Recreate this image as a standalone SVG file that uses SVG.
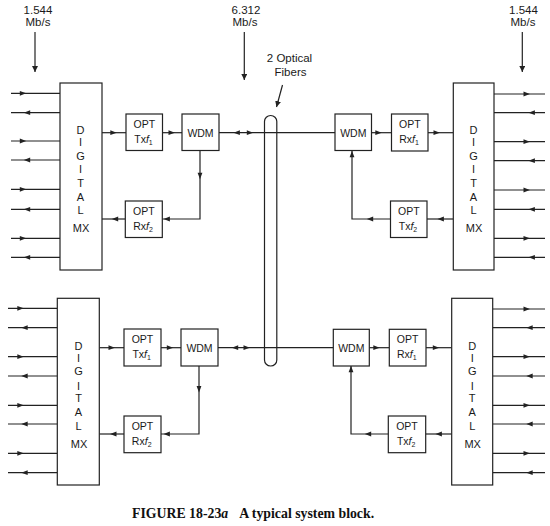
<svg xmlns="http://www.w3.org/2000/svg" xmlns:xlink="http://www.w3.org/1999/xlink" width="550" height="526" viewBox="0 0 550 526">
<style>
.box{fill:#fff;stroke:#222;stroke-width:1.2}
.ln{fill:none;stroke:#222;stroke-width:1.2}
.t{font-family:"Liberation Sans",Arial,sans-serif;fill:#1a1a1a;text-anchor:middle}
.lb{font-size:11.5px}
.bx{font-size:10.5px}
.mx{font-size:11px}
.cap{font-family:"Liberation Serif","Times New Roman",serif;font-weight:bold;font-size:13.8px;fill:#111}
</style>
<defs>
<path id="ar" d="M-3.2,-2.4 L3.2,0 L-3.2,2.4 Z" fill="#222"/>
<marker id="mk" markerWidth="8" markerHeight="8" refX="6" refY="3" orient="auto" markerUnits="userSpaceOnUse"><path d="M0,0 L6,3 L0,6 Z" fill="#222"/></marker>
</defs>
<rect width="550" height="526" fill="#fff"/>

<g id="labels">
<text class="t lb" x="38" y="14">1.544</text>
<text class="t lb" x="38" y="26">Mb/s</text>
<text class="t lb" x="246" y="14">6.312</text>
<text class="t lb" x="245" y="26">Mb/s</text>
<text class="t lb" x="523.5" y="14">1.544</text>
<text class="t lb" x="523" y="26">Mb/s</text>
<text class="t lb" x="289.5" y="62">2 Optical</text>
<text class="t lb" x="290.5" y="75.5">Fibers</text>
</g>

<g id="connectors">
<!-- rate arrows -->
<line class="ln" x1="35" y1="32" x2="35" y2="72" marker-end="url(#mk)"/>
<line class="ln" x1="244.3" y1="32" x2="244.3" y2="80" marker-end="url(#mk)" stroke-width="1"/>
<line class="ln" x1="522.3" y1="32" x2="522.3" y2="72" marker-end="url(#mk)"/>
<line class="ln" x1="282.5" y1="85" x2="276.5" y2="107" marker-end="url(#mk)" stroke-width="1"/>

<!-- fiber links -->
<line class="ln" x1="219" y1="132.7" x2="335" y2="132.7"/>
<line class="ln" x1="218" y1="347.7" x2="333.3" y2="347.7"/>
<use xlink:href="#ar" transform="translate(236.7,132.7) rotate(180)"/>
<use xlink:href="#ar" transform="translate(250,132.7)"/>
<use xlink:href="#ar" transform="translate(235,347.7) rotate(180)"/>
<use xlink:href="#ar" transform="translate(246.7,347.7)"/>

<!-- top-left internal -->
<line class="ln" x1="102" y1="132.7" x2="126" y2="132.7"/>
<use xlink:href="#ar" transform="translate(113.5,132.7)"/>
<line class="ln" x1="162.5" y1="132.7" x2="182" y2="132.7"/>
<use xlink:href="#ar" transform="translate(171.7,132.7)"/>
<polyline class="ln" points="200,150.5 200,219 162.3,219"/>
<use xlink:href="#ar" transform="translate(200,176) rotate(90)"/>
<use xlink:href="#ar" transform="translate(166.7,219) rotate(180)"/>
<line class="ln" x1="125.3" y1="219" x2="102" y2="219"/>
<use xlink:href="#ar" transform="translate(115,219) rotate(180)"/>

<!-- top-right internal -->
<line class="ln" x1="371.5" y1="132.7" x2="391.5" y2="132.7"/>
<use xlink:href="#ar" transform="translate(378.5,132.7)"/>
<line class="ln" x1="428" y1="132.7" x2="453.3" y2="132.7"/>
<use xlink:href="#ar" transform="translate(436.7,132.7)"/>
<line class="ln" x1="453.3" y1="219" x2="427" y2="219"/>
<use xlink:href="#ar" transform="translate(440.7,219) rotate(180)"/>
<polyline class="ln" points="390.5,219 352,219 352,151"/>
<use xlink:href="#ar" transform="translate(370,219) rotate(180)"/>
<use xlink:href="#ar" transform="translate(352,154) rotate(-90)"/>

<!-- bottom-left internal -->
<line class="ln" x1="99.3" y1="347.7" x2="124" y2="347.7"/>
<use xlink:href="#ar" transform="translate(111.7,347.7)"/>
<line class="ln" x1="161" y1="347.7" x2="181" y2="347.7"/>
<use xlink:href="#ar" transform="translate(170,347.7)"/>
<polyline class="ln" points="199,366 199,434 160.7,434"/>
<use xlink:href="#ar" transform="translate(199,389.3) rotate(90)"/>
<use xlink:href="#ar" transform="translate(166.7,434) rotate(180)"/>
<line class="ln" x1="124" y1="434" x2="99.3" y2="434"/>
<use xlink:href="#ar" transform="translate(113.3,434) rotate(180)"/>

<!-- bottom-right internal -->
<line class="ln" x1="369.3" y1="347.7" x2="389.3" y2="347.7"/>
<use xlink:href="#ar" transform="translate(376.5,347.7)"/>
<line class="ln" x1="426" y1="347.7" x2="451.7" y2="347.7"/>
<use xlink:href="#ar" transform="translate(436,347.7)"/>
<line class="ln" x1="451.7" y1="434" x2="425.7" y2="434"/>
<use xlink:href="#ar" transform="translate(438.7,434) rotate(180)"/>
<polyline class="ln" points="388.3,434 351,434 351,366"/>
<use xlink:href="#ar" transform="translate(368,434) rotate(180)"/>
<use xlink:href="#ar" transform="translate(351,369) rotate(-90)"/>

<!-- top-left tributaries -->
<g>
<line class="ln" x1="11" y1="93.3" x2="60" y2="93.3"/><use xlink:href="#ar" transform="translate(23,93.3)"/>
<line class="ln" x1="11" y1="112.7" x2="60" y2="112.7"/><use xlink:href="#ar" transform="translate(27,112.7) rotate(180)"/>
<line class="ln" x1="11" y1="141" x2="60" y2="141"/><use xlink:href="#ar" transform="translate(23,141)"/>
<line class="ln" x1="11" y1="160" x2="60" y2="160"/><use xlink:href="#ar" transform="translate(27,160) rotate(180)"/>
<line class="ln" x1="11" y1="189.3" x2="60" y2="189.3"/><use xlink:href="#ar" transform="translate(23,189.3)"/>
<line class="ln" x1="11" y1="209.3" x2="60" y2="209.3"/><use xlink:href="#ar" transform="translate(27,209.3) rotate(180)"/>
<line class="ln" x1="11" y1="238.3" x2="60" y2="238.3"/><use xlink:href="#ar" transform="translate(23,238.3)"/>
<line class="ln" x1="11" y1="257.3" x2="60" y2="257.3"/><use xlink:href="#ar" transform="translate(27,257.3) rotate(180)"/>
</g>
<!-- top-right tributaries -->
<g>
<line class="ln" x1="494" y1="94" x2="545" y2="94"/><use xlink:href="#ar" transform="translate(526.7,94)"/>
<line class="ln" x1="494" y1="112.7" x2="545" y2="112.7"/><use xlink:href="#ar" transform="translate(531.7,112.7) rotate(180)"/>
<line class="ln" x1="494" y1="141.7" x2="545" y2="141.7"/><use xlink:href="#ar" transform="translate(526.7,141.7)"/>
<line class="ln" x1="494" y1="160.7" x2="545" y2="160.7"/><use xlink:href="#ar" transform="translate(531.7,160.7) rotate(180)"/>
<line class="ln" x1="494" y1="190" x2="545" y2="190"/><use xlink:href="#ar" transform="translate(526.7,190)"/>
<line class="ln" x1="494" y1="209.3" x2="545" y2="209.3"/><use xlink:href="#ar" transform="translate(531.7,209.3) rotate(180)"/>
<line class="ln" x1="494" y1="238.3" x2="545" y2="238.3"/><use xlink:href="#ar" transform="translate(526.7,238.3)"/>
<line class="ln" x1="494" y1="257.3" x2="545" y2="257.3"/><use xlink:href="#ar" transform="translate(531.7,257.3) rotate(180)"/>
</g>
<!-- bottom-left tributaries -->
<g>
<line class="ln" x1="8" y1="308.3" x2="57.3" y2="308.3"/><use xlink:href="#ar" transform="translate(20.5,308.3)"/>
<line class="ln" x1="8" y1="327.7" x2="57.3" y2="327.7"/><use xlink:href="#ar" transform="translate(24.5,327.7) rotate(180)"/>
<line class="ln" x1="8" y1="356.7" x2="57.3" y2="356.7"/><use xlink:href="#ar" transform="translate(20.5,356.7)"/>
<line class="ln" x1="8" y1="376" x2="57.3" y2="376"/><use xlink:href="#ar" transform="translate(24.5,376) rotate(180)"/>
<line class="ln" x1="8" y1="405.3" x2="57.3" y2="405.3"/><use xlink:href="#ar" transform="translate(20.5,405.3)"/>
<line class="ln" x1="8" y1="424" x2="57.3" y2="424"/><use xlink:href="#ar" transform="translate(24.5,424) rotate(180)"/>
<line class="ln" x1="8" y1="453.3" x2="57.3" y2="453.3"/><use xlink:href="#ar" transform="translate(20.5,453.3)"/>
<line class="ln" x1="8" y1="472.7" x2="57.3" y2="472.7"/><use xlink:href="#ar" transform="translate(24.5,472.7) rotate(180)"/>
</g>
<!-- bottom-right tributaries -->
<g>
<line class="ln" x1="492.7" y1="309" x2="545" y2="309"/><use xlink:href="#ar" transform="translate(526.7,309)"/>
<line class="ln" x1="492.7" y1="327.7" x2="545" y2="327.7"/><use xlink:href="#ar" transform="translate(529.5,327.7) rotate(180)"/>
<line class="ln" x1="492.7" y1="356.7" x2="545" y2="356.7"/><use xlink:href="#ar" transform="translate(526.7,356.7)"/>
<line class="ln" x1="492.7" y1="376" x2="545" y2="376"/><use xlink:href="#ar" transform="translate(529.5,376) rotate(180)"/>
<line class="ln" x1="492.7" y1="405.3" x2="545" y2="405.3"/><use xlink:href="#ar" transform="translate(526.7,405.3)"/>
<line class="ln" x1="492.7" y1="424" x2="545" y2="424"/><use xlink:href="#ar" transform="translate(529.5,424) rotate(180)"/>
<line class="ln" x1="492.7" y1="453.3" x2="545" y2="453.3"/><use xlink:href="#ar" transform="translate(526.7,453.3)"/>
<line class="ln" x1="492.7" y1="472.7" x2="545" y2="472.7"/><use xlink:href="#ar" transform="translate(529.5,472.7) rotate(180)"/>
</g>
</g>

<g id="fibers">
<rect x="264.5" y="115.5" width="12.3" height="250.5" rx="6.1" ry="6.1" fill="none" stroke="#222" stroke-width="1.2"/>
</g>

<!-- top-left -->
<g id="mux-tl">
<rect class="box" x="60" y="83" width="42" height="187"/>
<text class="t mx" x="80.5" y="134">D</text><text class="t mx" x="80.5" y="145.5">I</text><text class="t mx" x="80.5" y="160">G</text><text class="t mx" x="80.5" y="173">I</text><text class="t mx" x="80.5" y="186.5">T</text><text class="t mx" x="80.5" y="200.5">A</text><text class="t mx" x="80.5" y="214">L</text><text class="t mx" x="81" y="232">MX</text>
</g>
<g id="tx-tl">
<rect class="box" x="126" y="114" width="36.5" height="36.5"/>
<text class="t bx" x="144.3" y="128">OPT</text>
<text class="t bx" x="143.5" y="142.5">Tx<tspan font-style="italic">f</tspan><tspan font-size="7" dy="2">1</tspan></text>
</g>
<g id="wdm-tl">
<rect class="box" x="182" y="114" width="37" height="36.5"/>
<text class="t bx" x="200.5" y="136.5">WDM</text>
</g>
<g id="rx-tl">
<rect class="box" x="125.3" y="201" width="37" height="36.5"/>
<text class="t bx" x="143.8" y="215">OPT</text>
<text class="t bx" x="143" y="229.5">Rx<tspan font-style="italic">f</tspan><tspan font-size="7" dy="2">2</tspan></text>
</g>

<!-- top-right -->
<g id="wdm-tr">
<rect class="box" x="335" y="114" width="36.5" height="36.5"/>
<text class="t bx" x="353.3" y="136.5">WDM</text>
</g>
<g id="rx-tr">
<rect class="box" x="391.5" y="114" width="36.5" height="37"/>
<text class="t bx" x="409.8" y="128">OPT</text>
<text class="t bx" x="409" y="142.5">Rx<tspan font-style="italic">f</tspan><tspan font-size="7" dy="2">1</tspan></text>
</g>
<g id="tx-tr">
<rect class="box" x="390.5" y="201" width="36.5" height="36.5"/>
<text class="t bx" x="408.8" y="215">OPT</text>
<text class="t bx" x="408" y="229.5">Tx<tspan font-style="italic">f</tspan><tspan font-size="7" dy="2">2</tspan></text>
</g>
<g id="mux-tr">
<rect class="box" x="453.3" y="83" width="40.7" height="187"/>
<text class="t mx" x="473.5" y="134">D</text><text class="t mx" x="473.5" y="145.5">I</text><text class="t mx" x="473.5" y="160">G</text><text class="t mx" x="473.5" y="173">I</text><text class="t mx" x="473.5" y="186.5">T</text><text class="t mx" x="473.5" y="200.5">A</text><text class="t mx" x="473.5" y="214">L</text><text class="t mx" x="474" y="232">MX</text>
</g>

<!-- bottom-left -->
<g id="mux-bl">
<rect class="box" x="57.3" y="298.3" width="42" height="186.7"/>
<text class="t mx" x="78.5" y="349.5">D</text><text class="t mx" x="78.5" y="361.5">I</text><text class="t mx" x="78.5" y="374.5">G</text><text class="t mx" x="78.5" y="389.5">I</text><text class="t mx" x="78.5" y="402">T</text><text class="t mx" x="78.5" y="415.5">A</text><text class="t mx" x="78.5" y="429.5">L</text><text class="t mx" x="79" y="448">MX</text>
</g>
<g id="tx-bl">
<rect class="box" x="124" y="329" width="37" height="37"/>
<text class="t bx" x="142.5" y="343">OPT</text>
<text class="t bx" x="141.7" y="357.5">Tx<tspan font-style="italic">f</tspan><tspan font-size="7" dy="2">1</tspan></text>
</g>
<g id="wdm-bl">
<rect class="box" x="181" y="329" width="37" height="37"/>
<text class="t bx" x="199.5" y="351.5">WDM</text>
</g>
<g id="rx-bl">
<rect class="box" x="124" y="416" width="37" height="36.7"/>
<text class="t bx" x="142.5" y="430">OPT</text>
<text class="t bx" x="141.7" y="444.5">Rx<tspan font-style="italic">f</tspan><tspan font-size="7" dy="2">2</tspan></text>
</g>

<!-- bottom-right -->
<g id="wdm-br">
<rect class="box" x="333.3" y="329.3" width="36" height="36.7"/>
<text class="t bx" x="351.3" y="351.5">WDM</text>
</g>
<g id="rx-br">
<rect class="box" x="389.3" y="329.3" width="36.7" height="36.7"/>
<text class="t bx" x="407.6" y="343">OPT</text>
<text class="t bx" x="406.8" y="357.5">Rx<tspan font-style="italic">f</tspan><tspan font-size="7" dy="2">1</tspan></text>
</g>
<g id="tx-br">
<rect class="box" x="388.3" y="416" width="37.4" height="36.7"/>
<text class="t bx" x="407" y="430">OPT</text>
<text class="t bx" x="406.2" y="444.5">Tx<tspan font-style="italic">f</tspan><tspan font-size="7" dy="2">2</tspan></text>
</g>
<g id="mux-br">
<rect class="box" x="451.7" y="298.3" width="41" height="186.7"/>
<text class="t mx" x="472.2" y="349.5">D</text><text class="t mx" x="472.2" y="361.5">I</text><text class="t mx" x="472.2" y="374.5">G</text><text class="t mx" x="472.2" y="389.5">I</text><text class="t mx" x="472.2" y="402">T</text><text class="t mx" x="472.2" y="415.5">A</text><text class="t mx" x="472.2" y="429.5">L</text><text class="t mx" x="472.7" y="448">MX</text>
</g>

<g id="caption">
<text class="cap" x="132" y="518">FIGURE 18-23<tspan font-style="italic">a</tspan><tspan dx="11">A typical system block.</tspan></text>
</g>
</svg>
